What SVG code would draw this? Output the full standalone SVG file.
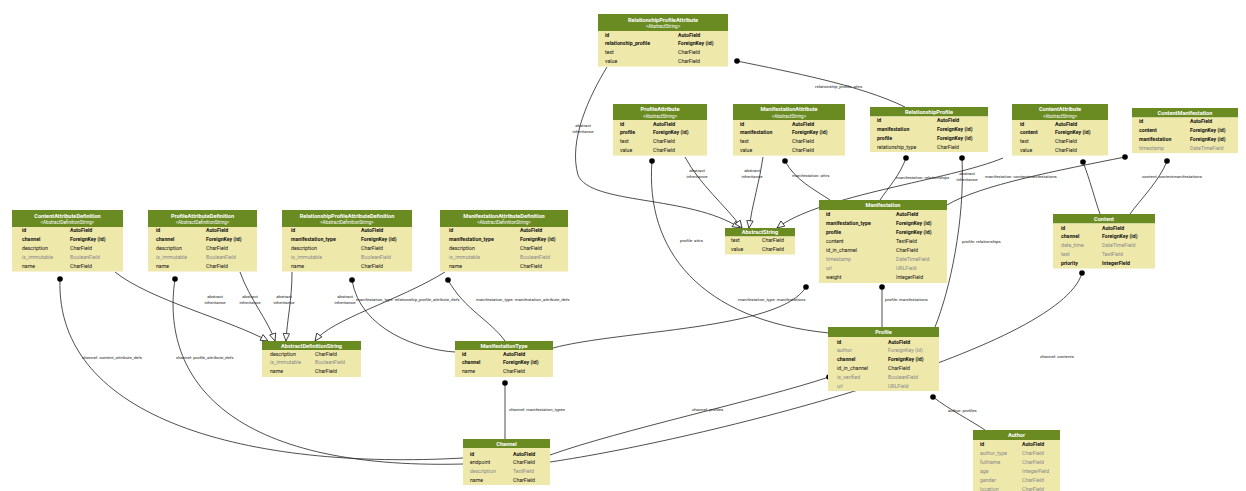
<svg xmlns="http://www.w3.org/2000/svg" width="1246" height="491" viewBox="0 0 1246 491">
<style>
.hd{fill:#698B22}
.bd{fill:#EEE8AA}
.tt{font-family:Roboto,"Liberation Sans",sans-serif;font-size:5.6px;font-weight:bold;fill:#fff;text-anchor:middle}
.st{font-family:Roboto,"Liberation Sans",sans-serif;font-size:4.6px;fill:#fff;text-anchor:middle}
.f{font-family:Roboto,"Liberation Sans",sans-serif;font-size:5.2px;fill:#111}
.b{font-weight:bold}
.g{fill:#8a8a8a}
.e{fill:none;stroke:#222;stroke-width:0.8}
.fk{marker-start:url(#dot)}
.inh{marker-end:url(#tri)}
.l{font-family:Roboto,"Liberation Sans",sans-serif;font-size:4.3px;fill:#222}
.lm{text-anchor:middle}
</style>
<defs>
<marker id="dot" markerWidth="6" markerHeight="6" refX="3" refY="3" markerUnits="userSpaceOnUse"><circle cx="3" cy="3" r="2.8" fill="#000"/></marker>
<marker id="tri" markerWidth="9" markerHeight="8" refX="8" refY="4" orient="auto" markerUnits="userSpaceOnUse"><path d="M0.6,0.8 L8,4 L0.6,7.2 Z" fill="#fff" stroke="#222" stroke-width="0.8"/></marker>
</defs>

<g id="connectors">
<path class="e fk" d="M737,61 C790,72 860,85 905,107"/>
<text class="l" x="815" y="88">relationship_profile: attrs</text>
<path class="e inh" d="M607,67 C590,95 568,140 578,175 C590,205 690,195 740,228"/>
<text class="l lm" x="583" y="127">abstract</text><text class="l lm" x="583" y="133">inheritance</text>
<path class="e inh" d="M685,157 C700,185 725,205 742,228"/>
<text class="l lm" x="697" y="172">abstract</text><text class="l lm" x="697" y="178">inheritance</text>
<path class="e inh" d="M763,157 C760,180 752,205 749,228"/>
<text class="l lm" x="752" y="172">abstract</text><text class="l lm" x="752" y="178">inheritance</text>
<path class="e inh" d="M1003,158 C950,180 820,195 777,228"/>
<text class="l lm" x="967" y="175">abstract</text><text class="l lm" x="967" y="181">inheritance</text>
<path class="e fk" d="M652,161 C645,250 700,320 829,333"/>
<text class="l" x="680" y="242">profile: attrs</text>
<path class="e fk" d="M785,161 C795,180 815,190 830,200"/>
<text class="l" x="792" y="177">manifestation: attrs</text>
<path class="e fk" d="M906,158 C900,175 888,188 880,200"/>
<text class="l" x="896" y="179">manifestation: relationships</text>
<path class="e fk" d="M962,158 C965,220 950,290 935,327"/>
<text class="l" x="962" y="243">profile: relationships</text>
<path class="e fk" d="M1083,162 C1090,180 1095,200 1100,214"/>
<path class="e fk" d="M1125,157 C1060,170 980,185 947,205"/>
<text class="l" x="985" y="178">manifestation: contentmanifestations</text>
<path class="e fk" d="M1167,161 C1160,180 1140,200 1130,214"/>
<text class="l" x="1142" y="178">content: contentmanifestations</text>
<path class="e fk" d="M806,287 C780,330 620,330 553,348"/>
<text class="l" x="738" y="301">manifestation_type: manifestations</text>
<path class="e fk" d="M882,287 L882,327"/>
<text class="l" x="885" y="301">profile: manifestations</text>
<path class="e fk" d="M505,383 L505,439"/>
<text class="l" x="509" y="411">channel: manifestation_types</text>
<path class="e fk" d="M829,377 C760,400 620,430 550,455"/>
<text class="l" x="692" y="411">channel: profiles</text>
<path class="e fk" d="M933,397 C950,410 970,420 985,430"/>
<text class="l" x="948" y="412">author: profiles</text>
<path class="e fk" d="M1082,273 C1060,350 700,440 550,462"/>
<text class="l" x="1040" y="358">channel: contents</text>
<path class="e fk" d="M60,279 C55,420 250,470 463,458"/>
<text class="l" x="82" y="359">channel: content_attribute_defs</text>
<path class="e fk" d="M175,279 C160,380 230,470 463,464"/>
<text class="l" x="176" y="359">channel: profile_attribute_defs</text>
<path class="e fk" d="M352,280 C360,330 420,350 455,352"/>
<text class="l" x="356" y="301">manifestation_type: relationship_profile_attribute_defs</text>
<path class="e fk" d="M448,280 C465,310 490,320 505,341"/>
<text class="l" x="476" y="301">manifestation_type: manifestation_attribute_defs</text>
<path class="e inh" d="M115,272 C150,300 230,320 268,341"/>
<text class="l lm" x="215" y="298">abstract</text><text class="l lm" x="215" y="304">inheritance</text>
<path class="e inh" d="M240,272 C250,300 268,320 275,341"/>
<text class="l lm" x="250" y="298">abstract</text><text class="l lm" x="250" y="304">inheritance</text>
<path class="e inh" d="M292,272 C292,300 287,320 286,341"/>
<text class="l lm" x="284" y="298">abstract</text><text class="l lm" x="284" y="304">inheritance</text>
<path class="e inh" d="M445,272 C400,300 330,320 315,341"/>
<text class="l lm" x="345" y="298">abstract</text><text class="l lm" x="345" y="304">inheritance</text>
</g>

<g id="RelationshipProfileAttribute">
<rect class="hd" x="598" y="14" width="130" height="17"/>
<rect class="bd" x="598" y="31" width="130" height="35.6"/>
<text class="tt" x="663" y="21.5">RelationshipProfileAttribute</text>
<text class="st" x="663" y="28">&lt;AbstractString&gt;</text>
<text class="f b" x="605" y="36.5">id</text><text class="f b" x="678" y="36.5">AutoField</text>
<text class="f b" x="605" y="45.4">relationship_profile</text><text class="f b" x="678" y="45.4">ForeignKey (id)</text>
<text class="f" x="605" y="54.3">text</text><text class="f" x="678" y="54.3">CharField</text>
<text class="f" x="605" y="63.2">value</text><text class="f" x="678" y="63.2">CharField</text>
</g>

<g id="ProfileAttribute">
<rect class="hd" x="613" y="104" width="94" height="16"/>
<rect class="bd" x="613" y="120" width="94" height="35.6"/>
<text class="tt" x="660" y="111">ProfileAttribute</text>
<text class="st" x="660" y="117.5">&lt;AbstractString&gt;</text>
<text class="f b" x="620" y="125.5">id</text><text class="f b" x="653" y="125.5">AutoField</text>
<text class="f b" x="620" y="134.4">profile</text><text class="f b" x="653" y="134.4">ForeignKey (id)</text>
<text class="f" x="620" y="143.3">text</text><text class="f" x="653" y="143.3">CharField</text>
<text class="f" x="620" y="152.2">value</text><text class="f" x="653" y="152.2">CharField</text>
</g>

<g id="ManifestationAttribute">
<rect class="hd" x="733" y="104" width="112" height="16"/>
<rect class="bd" x="733" y="120" width="112" height="35.6"/>
<text class="tt" x="789" y="111">ManifestationAttribute</text>
<text class="st" x="789" y="117.5">&lt;AbstractString&gt;</text>
<text class="f b" x="740" y="125.5">id</text><text class="f b" x="792" y="125.5">AutoField</text>
<text class="f b" x="740" y="134.4">manifestation</text><text class="f b" x="792" y="134.4">ForeignKey (id)</text>
<text class="f" x="740" y="143.3">text</text><text class="f" x="792" y="143.3">CharField</text>
<text class="f" x="740" y="152.2">value</text><text class="f" x="792" y="152.2">CharField</text>
</g>

<g id="RelationshipProfile">
<rect class="hd" x="870" y="107" width="118" height="9.5"/>
<rect class="bd" x="870" y="116.5" width="118" height="35.6"/>
<text class="tt" x="929" y="113.8">RelationshipProfile</text>
<text class="f b" x="877" y="122">id</text><text class="f b" x="937" y="122">AutoField</text>
<text class="f b" x="877" y="130.9">manifestation</text><text class="f b" x="937" y="130.9">ForeignKey (id)</text>
<text class="f b" x="877" y="139.8">profile</text><text class="f b" x="937" y="139.8">ForeignKey (id)</text>
<text class="f" x="877" y="148.7">relationship_type</text><text class="f" x="937" y="148.7">CharField</text>
</g>

<g id="ContentAttribute">
<rect class="hd" x="1012" y="104" width="96" height="16"/>
<rect class="bd" x="1012" y="120" width="96" height="35.6"/>
<text class="tt" x="1060" y="111">ContentAttribute</text>
<text class="st" x="1060" y="117.5">&lt;AbstractString&gt;</text>
<text class="f b" x="1020" y="125.5">id</text><text class="f b" x="1055" y="125.5">AutoField</text>
<text class="f b" x="1020" y="134.4">content</text><text class="f b" x="1055" y="134.4">ForeignKey (id)</text>
<text class="f" x="1020" y="143.3">text</text><text class="f" x="1055" y="143.3">CharField</text>
<text class="f" x="1020" y="152.2">value</text><text class="f" x="1055" y="152.2">CharField</text>
</g>

<g id="ContentManifestation">
<rect class="hd" x="1132" y="108" width="106" height="9.5"/>
<rect class="bd" x="1132" y="117.5" width="106" height="35.6"/>
<text class="tt" x="1185" y="114.8">ContentManifestation</text>
<text class="f b" x="1139" y="123">id</text><text class="f b" x="1190" y="123">AutoField</text>
<text class="f b" x="1139" y="131.9">content</text><text class="f b" x="1190" y="131.9">ForeignKey (id)</text>
<text class="f b" x="1139" y="140.8">manifestation</text><text class="f b" x="1190" y="140.8">ForeignKey (id)</text>
<text class="f g" x="1139" y="149.7">timestamp</text><text class="f g" x="1190" y="149.7">DateTimeField</text>
</g>

<g id="AbstractString">
<rect class="hd" x="725" y="228" width="70" height="8.5"/>
<rect class="bd" x="725" y="236.5" width="70" height="18"/>
<text class="tt" x="760" y="234.4">AbstractString</text>
<text class="f" x="731" y="242">text</text><text class="f" x="762" y="242">CharField</text>
<text class="f" x="731" y="250.9">value</text><text class="f" x="762" y="250.9">CharField</text>
</g>

<g id="Manifestation">
<rect class="hd" x="819" y="200" width="128" height="10"/>
<rect class="bd" x="819" y="210" width="128" height="73"/>
<text class="tt" x="883" y="207.2">Manifestation</text>
<text class="f b" x="826" y="216">id</text><text class="f b" x="896" y="216">AutoField</text>
<text class="f b" x="826" y="225">manifestation_type</text><text class="f b" x="896" y="225">ForeignKey (id)</text>
<text class="f b" x="826" y="234">profile</text><text class="f b" x="896" y="234">ForeignKey (id)</text>
<text class="f" x="826" y="243">content</text><text class="f" x="896" y="243">TextField</text>
<text class="f" x="826" y="252">id_in_channel</text><text class="f" x="896" y="252">CharField</text>
<text class="f g" x="826" y="261">timestamp</text><text class="f g" x="896" y="261">DateTimeField</text>
<text class="f g" x="826" y="270">url</text><text class="f g" x="896" y="270">URLField</text>
<text class="f" x="826" y="279">weight</text><text class="f" x="896" y="279">IntegerField</text>
</g>

<g id="Content">
<rect class="hd" x="1053" y="214" width="102" height="9.5"/>
<rect class="bd" x="1053" y="223.5" width="102" height="45"/>
<text class="tt" x="1104" y="221">Content</text>
<text class="f b" x="1061" y="229.5">id</text><text class="f b" x="1102" y="229.5">AutoField</text>
<text class="f b" x="1061" y="238.4">channel</text><text class="f b" x="1102" y="238.4">ForeignKey (id)</text>
<text class="f g" x="1061" y="247.3">date_time</text><text class="f g" x="1102" y="247.3">DateTimeField</text>
<text class="f g" x="1061" y="256.2">text</text><text class="f g" x="1102" y="256.2">TextField</text>
<text class="f b" x="1061" y="265.1">priority</text><text class="f b" x="1102" y="265.1">IntegerField</text>
</g>

<g id="ContentAttributeDefinition">
<rect class="hd" x="12" y="210" width="111" height="17"/>
<rect class="bd" x="12" y="227" width="111" height="44.5"/>
<text class="tt" x="67.5" y="217.5">ContentAttributeDefinition</text>
<text class="st" x="67.5" y="224">&lt;AbstractDefinitionString&gt;</text>
<text class="f b" x="22" y="232">id</text><text class="f b" x="70" y="232">AutoField</text>
<text class="f b" x="22" y="240.9">channel</text><text class="f b" x="70" y="240.9">ForeignKey (id)</text>
<text class="f" x="22" y="249.8">description</text><text class="f" x="70" y="249.8">CharField</text>
<text class="f g" x="22" y="258.7">is_immutable</text><text class="f g" x="70" y="258.7">BooleanField</text>
<text class="f" x="22" y="267.6">name</text><text class="f" x="70" y="267.6">CharField</text>
</g>

<g id="ProfileAttributeDefinition">
<rect class="hd" x="148" y="210" width="109" height="17"/>
<rect class="bd" x="148" y="227" width="109" height="44.5"/>
<text class="tt" x="202.5" y="217.5">ProfileAttributeDefinition</text>
<text class="st" x="202.5" y="224">&lt;AbstractDefinitionString&gt;</text>
<text class="f b" x="156" y="232">id</text><text class="f b" x="206" y="232">AutoField</text>
<text class="f b" x="156" y="240.9">channel</text><text class="f b" x="206" y="240.9">ForeignKey (id)</text>
<text class="f" x="156" y="249.8">description</text><text class="f" x="206" y="249.8">CharField</text>
<text class="f g" x="156" y="258.7">is_immutable</text><text class="f g" x="206" y="258.7">BooleanField</text>
<text class="f" x="156" y="267.6">name</text><text class="f" x="206" y="267.6">CharField</text>
</g>

<g id="RelationshipProfileAttributeDefinition">
<rect class="hd" x="282" y="210" width="130" height="17"/>
<rect class="bd" x="282" y="227" width="130" height="44.5"/>
<text class="tt" x="347" y="217.5">RelationshipProfileAttributeDefinition</text>
<text class="st" x="347" y="224">&lt;AbstractDefinitionString&gt;</text>
<text class="f b" x="291" y="232">id</text><text class="f b" x="361" y="232">AutoField</text>
<text class="f b" x="291" y="240.9">manifestation_type</text><text class="f b" x="361" y="240.9">ForeignKey (id)</text>
<text class="f" x="291" y="249.8">description</text><text class="f" x="361" y="249.8">CharField</text>
<text class="f g" x="291" y="258.7">is_immutable</text><text class="f g" x="361" y="258.7">BooleanField</text>
<text class="f" x="291" y="267.6">name</text><text class="f" x="361" y="267.6">CharField</text>
</g>

<g id="ManifestationAttributeDefinition">
<rect class="hd" x="440" y="210" width="128" height="17"/>
<rect class="bd" x="440" y="227" width="128" height="44.5"/>
<text class="tt" x="504" y="217.5">ManifestationAttributeDefinition</text>
<text class="st" x="504" y="224">&lt;AbstractDefinitionString&gt;</text>
<text class="f b" x="449" y="232">id</text><text class="f b" x="520" y="232">AutoField</text>
<text class="f b" x="449" y="240.9">manifestation_type</text><text class="f b" x="520" y="240.9">ForeignKey (id)</text>
<text class="f" x="449" y="249.8">description</text><text class="f" x="520" y="249.8">CharField</text>
<text class="f g" x="449" y="258.7">is_immutable</text><text class="f g" x="520" y="258.7">BooleanField</text>
<text class="f" x="449" y="267.6">name</text><text class="f" x="520" y="267.6">CharField</text>
</g>

<g id="AbstractDefinitionString">
<rect class="hd" x="262" y="341" width="99" height="9"/>
<rect class="bd" x="262" y="350" width="99" height="27"/>
<text class="tt" x="311.5" y="347.8">AbstractDefinitionString</text>
<text class="f" x="270" y="355.5">description</text><text class="f" x="315" y="355.5">CharField</text>
<text class="f g" x="270" y="364.4">is_immutable</text><text class="f g" x="315" y="364.4">BooleanField</text>
<text class="f" x="270" y="373.3">name</text><text class="f" x="315" y="373.3">CharField</text>
</g>

<g id="ManifestationType">
<rect class="hd" x="455" y="341" width="98" height="9"/>
<rect class="bd" x="455" y="350" width="98" height="27"/>
<text class="tt" x="504" y="347.8">ManifestationType</text>
<text class="f b" x="462" y="355.5">id</text><text class="f b" x="503" y="355.5">AutoField</text>
<text class="f b" x="462" y="364.4">channel</text><text class="f b" x="503" y="364.4">ForeignKey (id)</text>
<text class="f" x="462" y="373.3">name</text><text class="f" x="503" y="373.3">CharField</text>
</g>

<g id="Profile">
<rect class="hd" x="828" y="327" width="111" height="10"/>
<rect class="bd" x="828" y="337" width="111" height="54"/>
<text class="tt" x="883.5" y="334.2">Profile</text>
<text class="f b" x="837" y="343.5">id</text><text class="f b" x="888" y="343.5">AutoField</text>
<text class="f g" x="837" y="352.4">author</text><text class="f g" x="888" y="352.4">ForeignKey (id)</text>
<text class="f b" x="837" y="361.3">channel</text><text class="f b" x="888" y="361.3">ForeignKey (id)</text>
<text class="f" x="837" y="370.2">id_in_channel</text><text class="f" x="888" y="370.2">CharField</text>
<text class="f g" x="837" y="379.1">is_verified</text><text class="f g" x="888" y="379.1">BooleanField</text>
<text class="f g" x="837" y="388">url</text><text class="f g" x="888" y="388">URLField</text>
</g>

<g id="Channel">
<rect class="hd" x="463" y="439" width="87" height="9"/>
<rect class="bd" x="463" y="448" width="87" height="37"/>
<text class="tt" x="506.5" y="445.8">Channel</text>
<text class="f b" x="470" y="455.5">id</text><text class="f b" x="513" y="455.5">AutoField</text>
<text class="f" x="470" y="464.4">endpoint</text><text class="f" x="513" y="464.4">CharField</text>
<text class="f g" x="470" y="473.3">description</text><text class="f g" x="513" y="473.3">TextField</text>
<text class="f" x="470" y="482.2">name</text><text class="f" x="513" y="482.2">CharField</text>
</g>

<g id="Author">
<rect class="hd" x="973" y="430" width="87" height="10"/>
<rect class="bd" x="973" y="440" width="87" height="55"/>
<text class="tt" x="1016.5" y="437.2">Author</text>
<text class="f b" x="980" y="446">id</text><text class="f b" x="1022" y="446">AutoField</text>
<text class="f g" x="980" y="455">author_type</text><text class="f g" x="1022" y="455">CharField</text>
<text class="f g" x="980" y="464">fullname</text><text class="f g" x="1022" y="464">CharField</text>
<text class="f g" x="980" y="473">age</text><text class="f g" x="1022" y="473">IntegerField</text>
<text class="f g" x="980" y="482">gender</text><text class="f g" x="1022" y="482">CharField</text>
<text class="f g" x="980" y="491">location</text><text class="f g" x="1022" y="491">CharField</text>
</g>
</svg>
